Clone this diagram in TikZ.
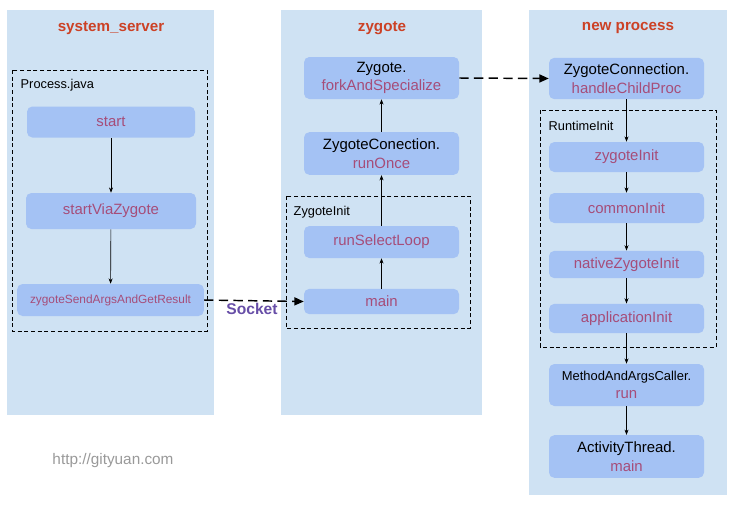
\documentclass[tikz,border=0pt]{standalone}
\usepackage{fontspec}
\setmainfont{Liberation Sans}
\usetikzlibrary{arrows.meta}
\definecolor{panelblue}{HTML}{CFE2F3}
\definecolor{boxblue}{HTML}{A4C2F4}
\definecolor{methodpurple}{HTML}{A64D79}
\definecolor{titlered}{HTML}{CC4125}
\definecolor{socketpurple}{HTML}{674EA7}
\definecolor{wmgray}{HTML}{999999}
\tikzset{
  panel/.style={fill=panelblue, draw=none},
  group/.style={draw=black, line width=0.6pt, dash pattern=on 3pt off 2pt},
  box/.style={fill=boxblue, draw=none, rounded corners=4pt, align=center, inner sep=0pt, font=\fontsize{11.2}{14}\selectfont, text=methodpurple},
  smallbox/.style={box, font=\fontsize{8.9}{11}\selectfont},
  title/.style={font=\fontsize{11.4}{13}\selectfont\bfseries, text=titlered},
  grouplabel/.style={anchor=west, font=\fontsize{9.6}{11}\selectfont, text=black},
  flow/.style={-{Stealth[length=4pt,width=3pt]}, line width=0.5pt, black},
  ipc/.style={-{Triangle[length=7pt,width=6pt]}, line width=1.1pt, dash pattern=on 7pt off 4pt, black},
}
\begin{document}
\begin{tikzpicture}[x=0.75pt, y=-0.75pt]
\useasboundingbox (0,0) rectangle (737,508);
% panels
\fill[panel] (7,10) rectangle (214,415);
\fill[panel] (281,10) rectangle (482,415);
\fill[panel] (529,10) rectangle (727,495);
% titles
\node[title] (t1) at (111,28) {system\_server};
\node[title] (t2) at (382,28) {zygote};
\node[title] (t3) at (628,28) {new process};
% groups
\draw[group] (12,70) rectangle (207,331);
\node[grouplabel] (g1) at (16,85) {Process.java};
\draw[group] (286,196) rectangle (470,328);
\node[grouplabel] (g2) at (289,212) {ZygoteInit};
\draw[group] (540,110) rectangle (716,347);
\node[grouplabel] (g3) at (544,126) {RuntimeInit};
% left boxes
\node[box, minimum width=126pt, minimum height=23.25pt] (start) at (111,122) {start};
\node[box, minimum width=127.5pt, minimum height=27pt] (svz) at (111,211) {startViaZygote};
\node[smallbox, minimum width=140pt, minimum height=24pt] (send) at (110.5,300) {zygoteSendArgsAndGetResult};
% middle boxes
\node[box, minimum width=116.25pt, minimum height=31.5pt] (fork) at (381.5,78) {\textcolor{black}{Zygote.}\\forkAndSpecialize};
\node[box, minimum width=116.25pt, minimum height=32pt] (once) at (381.5,153.5) {\textcolor{black}{ZygoteConection.}\\runOnce};
\node[box, minimum width=116.25pt, minimum height=24pt] (loop) at (381.5,242) {runSelectLoop};
\node[box, minimum width=116.25pt, minimum height=19pt] (zmain) at (381.5,301.5) {main};
% right boxes
\node[box, minimum width=116.25pt, minimum height=31pt] (child) at (626.5,78.5) {\textcolor{black}{ZygoteConnection.}\\handleChildProc};
\node[box, minimum width=116.25pt, minimum height=22.5pt] (zinit) at (626.5,157) {zygoteInit};
\node[box, minimum width=116.25pt, minimum height=22.5pt] (cinit) at (626.5,208) {commonInit};
\node[box, minimum width=116.25pt, minimum height=20.5pt] (ninit) at (626.5,264.5) {nativeZygoteInit};
\node[box, minimum width=116.25pt, minimum height=22pt] (ainit) at (626.5,318.5) {applicationInit};
\node[box, minimum width=116.25pt, minimum height=31.5pt, font=\fontsize{9.7}{14}\selectfont] (mac) at (626.5,385) {\textcolor{black}{MethodAndArgsCaller.}\\{\fontsize{11.2}{14}\selectfont run}};
\node[box, minimum width=116.25pt, minimum height=32pt] (at) at (626.5,456.5) {\textcolor{black}{ActivityThread.}\\main};
% flows
\draw[flow] (start) -- (svz);
\draw[flow] (svz) -- (send);
\draw[flow] (zmain) -- (loop);
\draw[flow] (loop) -- (once);
\draw[flow] (once) -- (fork);
\draw[flow] (child) -- (zinit);
\draw[flow] (zinit) -- (cinit);
\draw[flow] (cinit) -- (ninit);
\draw[flow] (ninit) -- (ainit);
\draw[flow] (ainit) -- (mac);
\draw[flow] (mac) -- (at);
% ipc
\draw[ipc] (send.east) -- (zmain.west);
\node[font=\fontsize{11.7}{13}\selectfont\bfseries, text=socketpurple] (sock) at (252,309) {Socket};
\draw[ipc] (fork.east) -- (child.west);
% watermark
\node[font=\fontsize{11.5}{13}\selectfont, text=wmgray] (wm) at (113,461) {http://gityuan.com};
\end{tikzpicture}
\end{document}
